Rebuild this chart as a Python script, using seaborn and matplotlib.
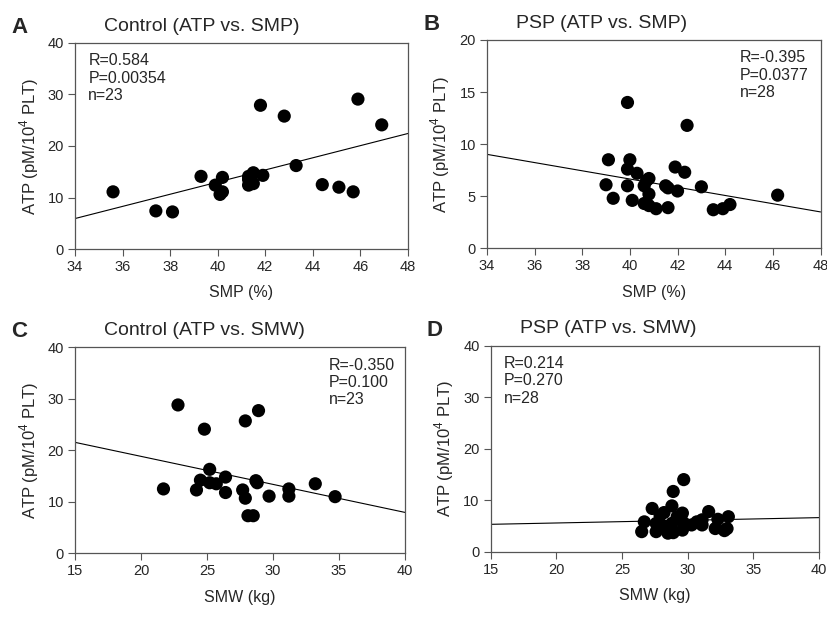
import matplotlib
matplotlib.use("Agg")
import matplotlib.pyplot as plt
import seaborn as sns
import pandas as pd

# panel A: control, ATP vs SMP
ctrl_smp = [35.6, 37.4, 38.1, 39.3, 39.9, 40.2, 40.1, 40.2, 41.3, 41.3, 41.5, 41.5,
            41.3, 41.4, 41.8, 41.9, 42.8, 43.3, 44.4, 45.1, 45.7, 45.9, 46.9]
ctrl_atp_a = [11.1, 7.4, 7.2, 14.1, 12.4, 13.9, 10.6, 11.1, 12.4, 14.1, 14.8, 12.7,
              13.5, 13.1, 27.9, 14.3, 25.8, 16.2, 12.5, 12.0, 11.1, 29.1, 24.1]

# panel B: PSP, ATP vs SMP
psp_smp = [39.9, 42.4, 39.1, 40.0, 39.9, 40.3, 41.9, 42.3, 40.8, 39.0, 39.9, 40.6,
           41.5, 41.6, 42.0, 43.0, 40.8, 39.3, 40.1, 40.6, 40.8, 41.1, 41.6, 43.5,
           43.9, 44.2, 46.2, 40.7]
psp_atp_b = [14.0, 11.8, 8.5, 8.5, 7.6, 7.2, 7.8, 7.3, 6.7, 6.1, 6.0, 6.0,
             6.0, 5.8, 5.5, 5.9, 5.2, 4.8, 4.6, 4.3, 4.1, 3.8, 3.9, 3.7,
             3.8, 4.2, 5.1, 6.5]

# panel C: control, ATP vs SMW
ctrl_smw = [21.7, 22.8, 24.2, 24.5, 24.8, 25.2, 25.2, 25.7, 26.4, 26.4, 27.7, 27.9,
            27.9, 28.1, 28.5, 28.7, 28.9, 29.7, 31.2, 31.2, 33.2, 34.7, 28.8]
ctrl_atp_c = [12.5, 28.8, 12.3, 14.2, 24.1, 16.3, 13.7, 13.5, 14.8, 11.8, 12.3, 10.7,
              25.7, 7.3, 7.3, 14.1, 27.7, 11.1, 12.5, 11.1, 13.5, 11.0, 13.7]

# panel D: PSP, ATP vs SMW
psp_smw = [29.7, 28.9, 27.3, 28.8, 28.2, 27.9, 29.6, 31.6, 26.7, 26.5, 27.6, 27.6,
           28.5, 28.8, 28.9, 29.6, 29.7, 30.3, 30.7, 31.1, 31.1, 32.1, 32.3, 32.8,
           33.1, 33.0, 28.3, 29.2]
psp_atp_d = [14.0, 11.7, 8.4, 8.9, 7.6, 7.0, 7.5, 7.8, 5.8, 3.9, 5.5, 3.9,
             3.6, 5.5, 3.7, 4.2, 5.6, 5.2, 5.8, 5.2, 6.2, 4.5, 6.3, 4.1,
             6.8, 4.5, 4.9, 6.8]

# regression lines as printed in the figure (slope, intercept)
fit_a = (1.179, -34.17)
fit_b = (-0.395, 22.45)
fit_c = (-0.544, 29.7)
fit_d = (0.052, 4.54)

panels = [
    dict(letter="A", title="Control (ATP vs. SMP)", x=ctrl_smp, y=ctrl_atp_a, fit=fit_a,
         xlabel="SMP (%)", xlim=(34, 48), xticks=range(34, 49, 2),
         ylim=(0, 40), yticks=range(0, 41, 10),
         stats="R=0.584\nP=0.00354\nn=23", stats_x=0.04,
         rect=[0.0906, 0.5964, 0.402, 0.334]),
    dict(letter="B", title="PSP (ATP vs. SMP)", x=psp_smp, y=psp_atp_b, fit=fit_b,
         xlabel="SMP (%)", xlim=(34, 48), xticks=range(34, 49, 2),
         ylim=(0, 20), yticks=range(0, 21, 5),
         stats="R=-0.395\nP=0.0377\nn=28", stats_x=0.757,
         rect=[0.588, 0.5976, 0.403, 0.3376]),
    dict(letter="C", title="Control (ATP vs. SMW)", x=ctrl_smw, y=ctrl_atp_c, fit=fit_c,
         xlabel="SMW (kg)", xlim=(15, 40), xticks=range(15, 41, 5),
         ylim=(0, 40), yticks=range(0, 41, 10),
         stats="R=-0.350\nP=0.100\nn=23", stats_x=0.77,
         rect=[0.0906, 0.1032, 0.3986, 0.334]),
    dict(letter="D", title="PSP (ATP vs. SMW)", x=psp_smw, y=psp_atp_d, fit=fit_d,
         xlabel="SMW (kg)", xlim=(15, 40), xticks=range(15, 41, 5),
         ylim=(0, 40), yticks=range(0, 41, 10),
         stats="R=0.214\nP=0.270\nn=28", stats_x=0.04,
         rect=[0.5926, 0.1058, 0.3965, 0.3339]),
]

sns.set_theme(style="ticks")
plt.rcParams['font.family'] = ['Liberation Sans', 'DejaVu Sans']
plt.rcParams['mathtext.fontset'] = 'custom'
plt.rcParams['mathtext.rm'] = 'Liberation Sans'

fig = plt.figure(figsize=(8.28, 6.17), dpi=100)

for p in panels:
    ax = fig.add_axes(p["rect"])
    df = pd.DataFrame({"x": p["x"], "y": p["y"]})
    sns.scatterplot(data=df, x="x", y="y", ax=ax, s=90, color="black",
                    edgecolor="none", zorder=3)
    slope, icpt = p["fit"]
    ax.axline((0, icpt), slope=slope, color="black", lw=0.8, zorder=2)
    ax.set_xlim(*p["xlim"])
    ax.set_ylim(*p["ylim"])
    ax.set_xticks(list(p["xticks"]))
    ax.set_yticks(list(p["yticks"]))
    ax.tick_params(direction="out", length=5, width=0.8, color="#555555",
                   labelsize=10.5, pad=3)
    for s in ax.spines.values():
        s.set_color("#555555")
        s.set_linewidth(0.9)
    ax.set_xlabel(p["xlabel"], fontsize=11.5, labelpad=8)
    ax.set_ylabel("ATP (pM/10$^4$ PLT)", fontsize=12, labelpad=5)
    ax.text(p["stats_x"], 0.95, p["stats"], transform=ax.transAxes, ha="left",
            va="top", fontsize=11.5, linespacing=1.2)
    x0, y0, w, h = p["rect"]
    fig.text(x0 + 0.035, y0 + h + 0.02, p["title"], fontsize=14,
             ha="left", va="baseline")
    fig.text(x0 - 0.077, y0 + h + 0.016, p["letter"], fontsize=16,
             fontweight="bold", ha="left", va="baseline")

fig.savefig("out.png", dpi=100)
